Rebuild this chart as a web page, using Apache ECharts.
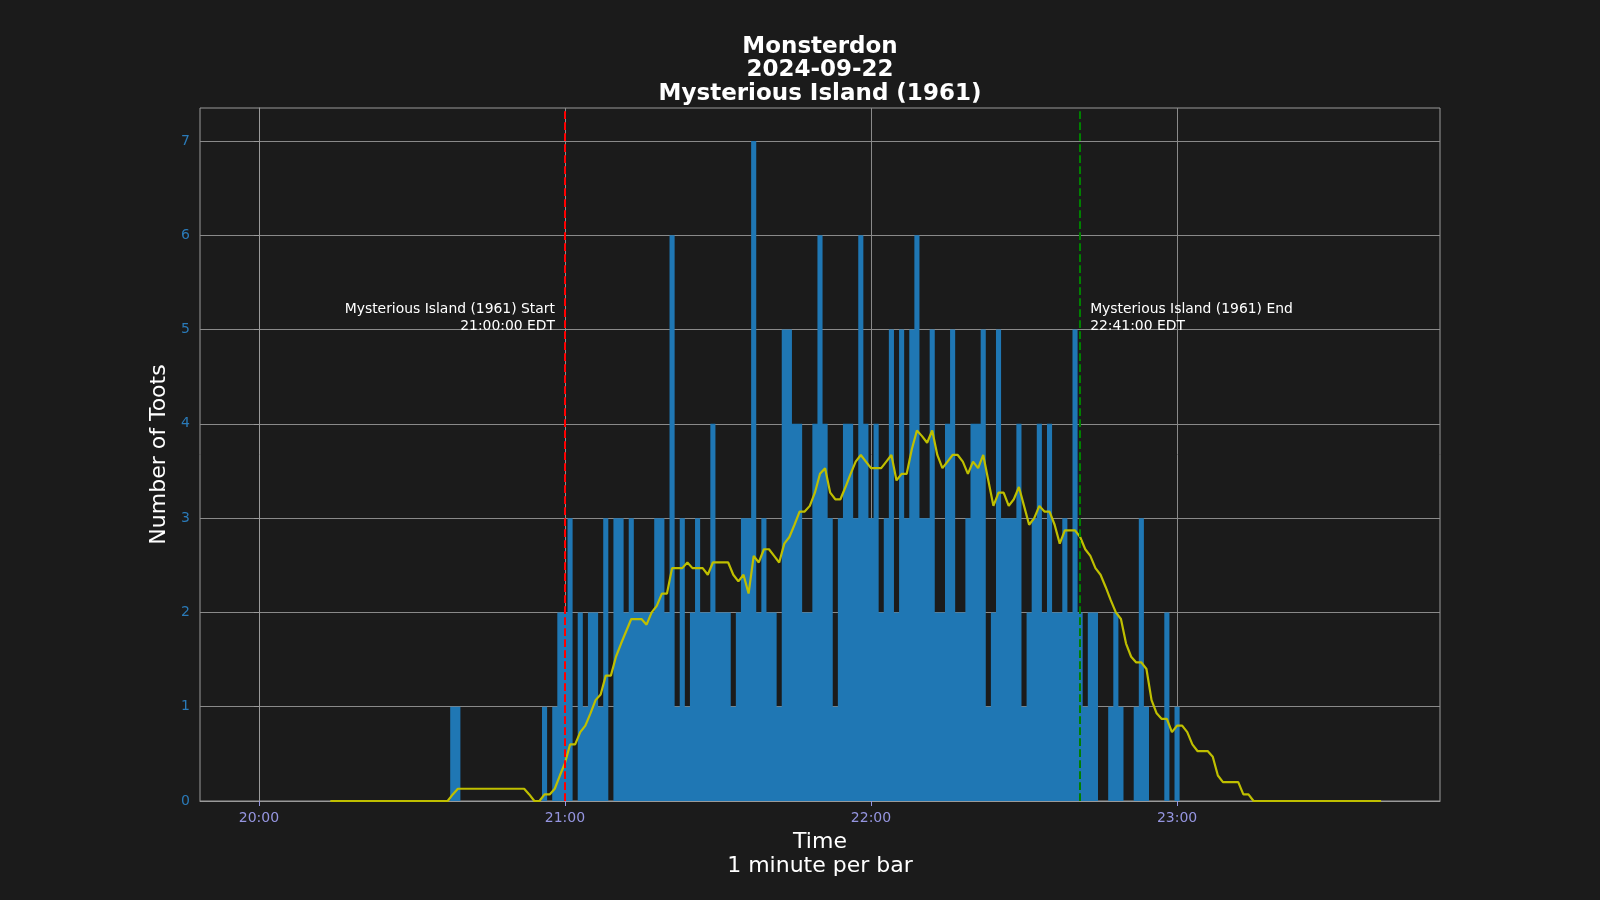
<!DOCTYPE html>
<html>
<head>
<meta charset="utf-8">
<title>Monsterdon 2024-09-22</title>
<script src="https://cdn.jsdelivr.net/npm/echarts@6/dist/echarts.min.js"></script>
<style>
  html, body { margin: 0; padding: 0; background: #1b1b1b; }
  #main { width: 1600px; height: 900px; }
</style>
</head>
<body>
<div id="main"></div>
<script>
// minutes after 20:00 EDT, one bar per minute (20:00 .. 23:40)
var toots = [
  0,0,0,0,0,0,0,0,0,0, 0,0,0,0,0,0,0,0,0,0,
  0,0,0,0,0,0,0,0,0,0, 0,0,0,0,0,0,0,0,1,1,
  0,0,0,0,0,0,0,0,0,0, 0,0,0,0,0,0,1,0,1,2,
  2,3,0,2,1,2,2,1,3,0, 3,3,2,3,2,2,2,2,3,3,
  2,6,1,3,1,2,3,2,2,4, 2,2,2,1,2,3,3,7,2,3,
  2,2,1,5,5,4,4,2,2,4, 6,4,3,1,3,4,4,3,6,4,
  3,4,2,3,5,2,5,3,5,6, 3,3,5,2,2,4,5,2,2,3,
  4,4,5,1,2,5,3,3,3,4, 1,2,3,4,2,4,2,2,3,2,
  5,2,1,2,2,0,0,1,2,1, 0,0,1,3,1,0,0,0,2,0,
  1,0,0,0,0,0,0,0,0,0, 0,0,0,0,0,0,0,0,0,0,
  0,0,0,0,0,0,0,0,0,0, 0,0,0,0,0,0,0,0,0,0,
  0
];

// 15 minute running mean as drawn (yellow line), same minute index
var runningMean = [
  null,null,null,null,null,null,null,null,null,null, null,null,null,null,0,0,0,0,0,0,
  0,0,0,0,0,0,0,0,0,0, 0,0,0,0,0,0,0,0,0.07,0.13,
  0.13,0.13,0.13,0.13,0.13,0.13,0.13,0.13,0.13,0.13, 0.13,0.13,0.13,0.07,0,0,0.07,0.07,0.13,0.27,
  0.4,0.6,0.6,0.73,0.8,0.93,1.07,1.13,1.33,1.33, 1.53,1.67,1.8,1.93,1.93,1.93,1.87,2.0,2.07,2.2,
  2.2,2.47,2.47,2.47,2.53,2.47,2.47,2.47,2.4,2.53, 2.53,2.53,2.53,2.4,2.33,2.4,2.2,2.6,2.53,2.67,
  2.67,2.6,2.53,2.73,2.8,2.93,3.07,3.07,3.13,3.27, 3.47,3.53,3.27,3.2,3.2,3.33,3.47,3.6,3.67,3.6,
  3.53,3.53,3.53,3.6,3.67,3.4,3.47,3.47,3.73,3.93, 3.87,3.8,3.93,3.67,3.53,3.6,3.67,3.67,3.6,3.47,
  3.6,3.53,3.67,3.4,3.13,3.27,3.27,3.13,3.2,3.33, 3.13,2.93,3.0,3.13,3.07,3.07,2.93,2.73,2.87,2.87,
  2.87,2.8,2.67,2.6,2.47,2.4,2.27,2.13,2.0,1.93, 1.67,1.53,1.47,1.47,1.4,1.07,0.93,0.87,0.87,0.73,
  0.8,0.8,0.73,0.6,0.53,0.53,0.53,0.47,0.27,0.2, 0.2,0.2,0.2,0.07,0.07,0,0,0,0,0,
  0,0,0,0,0,0,0,0,0,0, 0,0,0,0,0,0,0,0,0,0,
  0
];

var hourTicks = [0, 60, 120, 180];
var hourLabels = ['20:00', '21:00', '22:00', '23:00'];
var countTicks = [0, 1, 2, 3, 4, 5, 6, 7];

var movieTitle = 'Mysterious Island (1961)';
var movieStart = 60;    // 21:00
var movieEnd = 161;     // 22:41
var startText = movieTitle + ' Start\n21:00:00 EDT';
var endText = movieTitle + ' End\n22:41:00 EDT';
var titleLines = ['Monsterdon', '2024-09-22', movieTitle];

var gridLeft = 200, gridRight = 160, gridTop = 108, gridBottom = 99;
var noteY = 5.12;

var myChart = echarts.init(document.getElementById('main'));

var option = {
  backgroundColor: '#1b1b1b',
  animation: false,
  graphic: [{
    type: 'text',
    x: gridLeft + (1600 - gridLeft - gridRight) / 2,
    y: 35,
    style: {
      text: titleLines.join('\n'),
      fill: '#ffffff',
      font: 'bold 23px "DejaVu Sans"',
      lineHeight: 23.5,
      align: 'center',
      verticalAlign: 'top'
    }
  }],
  grid: {
    left: gridLeft, right: gridRight, top: gridTop, bottom: gridBottom,
    show: true, borderColor: '#9a9a9a', borderWidth: 1
  },
  xAxis: {
    type: 'value',
    min: -11.55,
    max: 231.55,
    name: 'Time\n1 minute per bar',
    nameLocation: 'middle',
    nameGap: 25,
    nameTextStyle: { color: '#ffffff', fontSize: 22, lineHeight: 24, fontFamily: 'DejaVu Sans' },
    axisLine: { show: true, lineStyle: { color: '#9a9a9a', width: 1 } },
    axisTick: { show: true, customValues: hourTicks, length: 5, lineStyle: { color: '#9595e0' } },
    axisLabel: {
      customValues: hourTicks,
      margin: 10,
      color: '#9595e0',
      fontSize: 14,
      fontFamily: 'DejaVu Sans',
      formatter: function (v) { return hourLabels[hourTicks.indexOf(v)] || ''; }
    },
    splitLine: { show: true, lineStyle: { color: '#8a8a8a', width: 1 } }
  },
  yAxis: {
    type: 'value',
    min: 0,
    max: 7.35,
    interval: 1,
    name: 'Number of Toots',
    nameLocation: 'middle',
    nameGap: 23,
    nameTextStyle: { color: '#ffffff', fontSize: 22, fontFamily: 'DejaVu Sans' },
    axisLine: { show: true, lineStyle: { color: '#9a9a9a', width: 1 } },
    axisTick: { show: true, customValues: countTicks, length: 5, lineStyle: { color: '#9a9a9a' } },
    axisLabel: {
      customValues: countTicks,
      margin: 10,
      color: '#2a7ab8',
      fontSize: 14,
      fontFamily: 'DejaVu Sans'
    },
    splitLine: { show: true, lineStyle: { color: '#8a8a8a', width: 1 } }
  },
  series: [
    {
      name: 'Toots',
      type: 'bar',
      data: toots.map(function (v, i) { return [i, v]; }),
      barWidth: '100%',
      large: true,
      largeThreshold: 50,
      itemStyle: { color: '#1f77b4' },
      z: 2
    },
    {
      name: 'Running mean',
      type: 'line',
      data: runningMean.map(function (v, i) { return [i, v]; }),
      showSymbol: false,
      connectNulls: false,
      lineStyle: { color: '#bfbf00', width: 2.2 },
      z: 3,
      markLine: {
        silent: true,
        symbol: 'none',
        label: { show: false },
        data: [
          { xAxis: movieStart, lineStyle: { color: '#ff0000', type: [7.7, 3.3], width: 2 } },
          { xAxis: movieEnd, lineStyle: { color: '#008000', type: [7.7, 3.3], width: 2 } }
        ]
      },
      markPoint: {
        silent: true,
        symbol: 'circle',
        symbolSize: 0,
        data: [
          {
            coord: [movieStart, noteY],
            label: {
              show: true, position: 'left', distance: 10, align: 'right',
              formatter: startText, color: '#ffffff', fontSize: 13.9, lineHeight: 17,
              fontFamily: 'DejaVu Sans'
            }
          },
          {
            coord: [movieEnd, noteY],
            label: {
              show: true, position: 'right', distance: 10, align: 'left',
              formatter: endText, color: '#ffffff', fontSize: 13.9, lineHeight: 17,
              fontFamily: 'DejaVu Sans'
            }
          }
        ]
      }
    }
  ]
};

myChart.setOption(option);
</script>
</body>
</html>
